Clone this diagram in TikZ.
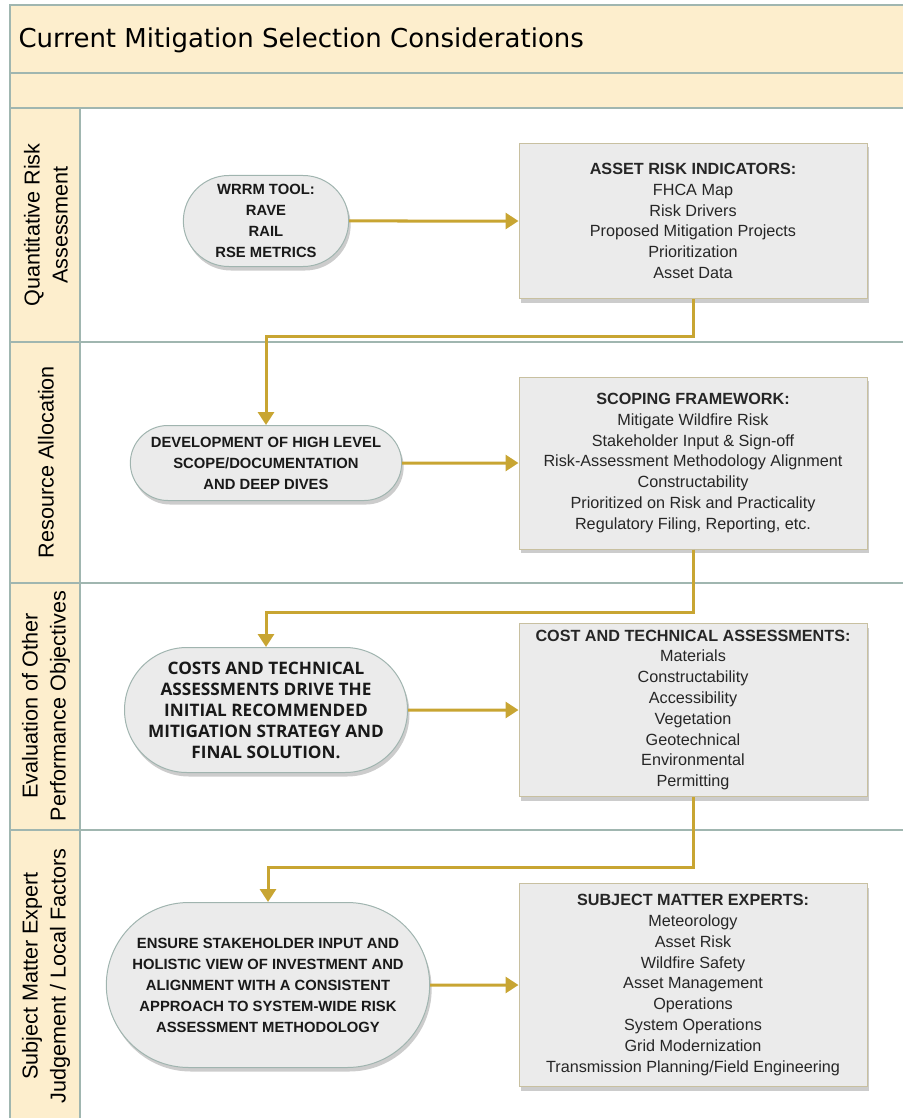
\documentclass[tikz,border=0pt]{standalone}
\usepackage{fontspec}
\setmainfont{Liberation Sans}
\newfontfamily\titlefont{DejaVu Sans}
\newfontfamily\opensans{Open Sans}
\usetikzlibrary{shapes.misc, arrows.meta, shadows, positioning}
\definecolor{lanefill}{RGB}{253,238,205}
\definecolor{laneline}{RGB}{160,182,176}
\definecolor{nodefill}{RGB}{235,235,235}
\definecolor{pillline}{RGB}{160,180,175}
\definecolor{boxline}{RGB}{200,192,160}
\definecolor{gold}{RGB}{200,165,50}
\newcommand{\pillfont}{\bfseries\fontsize{14.8}{21}\selectfont}
\newcommand{\boxfont}{\fontsize{16.2}{20.8}\selectfont}
\tikzstyle{lane} = [draw=laneline, fill=lanefill, line width=1.2pt]
\tikzstyle{lanelabel} = [rotate=90, align=center, font=\fontsize{21.6}{28}\selectfont]
\tikzstyle{pill} = [rounded rectangle, draw=pillline, fill=nodefill, line width=1pt,
    align=center, font=\pillfont, text=black!90,
    drop shadow={shadow xshift=2pt, shadow yshift=-4pt, opacity=0.2, fill=black}]
\tikzstyle{infobox} = [rectangle, draw=boxline, fill=nodefill, line width=1pt,
    minimum width=348pt, align=center, font=\boxfont, text=black!85,
    drop shadow={shadow xshift=2pt, shadow yshift=-4pt, opacity=0.2, fill=black}]
\tikzstyle{arrow} = [draw=gold, line width=3pt, -{Triangle[length=13pt, width=16pt]}]
\newcommand{\hdr}[1]{\textbf{#1}}

\begin{document}
\begin{tikzpicture}[x=1pt, y=-1pt]
\useasboundingbox (0,0) rectangle (902,1118);
% swimlane frame
\draw[lane] (10,5) rectangle (908,73);
\draw[lane] (10,73) rectangle (908,108);
\draw[lane] (10,108) rectangle (80,1124);
\foreach \y in {342,583,830}
  \draw[laneline, line width=1.2pt] (10,\y) -- (908,\y);
\node (title) [anchor=west, font=\titlefont\fontsize{26}{30}\selectfont] at (15,40)
  {Current Mitigation Selection Considerations};

\node (lbl1) [lanelabel] at (46,225) {Quantitative Risk\\Assessment};
\node (lbl2) [lanelabel] at (46,462) {Resource Allocation};
\node (lbl3) [lanelabel] at (46,706) {Evaluation of Other\\Performance Objectives};
\node (lbl4) [lanelabel] at (46,976) {Subject Matter Expert\\Judgement / Local Factors};

% left column
\node (wrrm) [pill, minimum width=172pt, minimum height=91pt] at (266,221)
  {WRRM TOOL:\\RAVE\\RAIL\\RSE METRICS};
\node (dev) [pill, minimum width=278pt, minimum height=75pt] at (266,463)
  {DEVELOPMENT OF HIGH LEVEL\\SCOPE/DOCUMENTATION\\AND DEEP DIVES};
\node (cost) [pill, minimum width=277pt, minimum height=125pt, inner xsep=-3pt,
  font=\opensans\bfseries\fontsize{17.2}{21}\selectfont] at (266,710)
  {COSTS AND TECHNICAL\\ASSESSMENTS DRIVE THE\\INITIAL RECOMMENDED\\MITIGATION STRATEGY AND\\FINAL SOLUTION.};
\node (ensure) [pill, minimum width=330pt, minimum height=165pt] at (268,985)
  {ENSURE STAKEHOLDER INPUT AND\\HOLISTIC VIEW OF INVESTMENT AND\\ALIGNMENT WITH A CONSISTENT\\APPROACH TO SYSTEM-WIDE RISK\\ASSESSMENT METHODOLOGY};

% right column
\node (asset) [infobox, minimum height=155pt] at (693,221)
  {\hdr{ASSET RISK INDICATORS:}\\FHCA Map\\Risk Drivers\\Proposed Mitigation Projects\\Prioritization\\Asset Data};
\node (scope) [infobox, minimum height=172pt] at (693,463)
  {\hdr{SCOPING FRAMEWORK:}\\Mitigate Wildfire Risk\\Stakeholder Input \& Sign-off\\Risk-Assessment Methodology Alignment\\Constructability\\Prioritized on Risk and Practicality\\Regulatory Filing, Reporting, etc.};
\node (costbox) [infobox, minimum height=173pt] at (693,710)
  {\hdr{COST AND TECHNICAL ASSESSMENTS:}\\Materials\\Constructability\\Accessibility\\Vegetation\\Geotechnical\\Environmental\\Permitting};
\node (sme) [infobox, minimum height=203pt] at (693,985)
  {\hdr{SUBJECT MATTER EXPERTS:}\\Meteorology\\Asset Risk\\Wildfire Safety\\Asset Management\\Operations\\System Operations\\Grid Modernization\\Transmission Planning/Field Engineering};

\draw[arrow] (wrrm) -- (asset);
\draw[arrow] (asset.south) -- ++(0,37) -| (dev.north);
\draw[arrow] (dev) -- (scope);
\draw[arrow] (scope.south) -- ++(0,63) -| (cost.north);
\draw[arrow] (cost) -- (costbox);
\draw[arrow] (costbox.south) -- ++(0,70) -| (ensure.north);
\draw[arrow] (ensure) -- (sme);
\end{tikzpicture}
\end{document}
